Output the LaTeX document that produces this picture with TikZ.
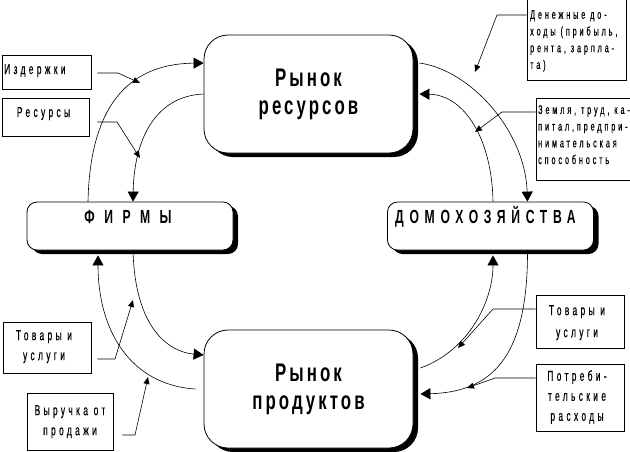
\documentclass[tikz,border=0pt]{standalone}
\usepackage{fontspec}
\setmainfont{Liberation Sans}
\newfontfamily\bigfont{Liberation Sans}[FakeStretch=0.66, LetterSpace=12]
\newfontfamily\headfont{Liberation Sans}[FakeStretch=0.64, LetterSpace=30]
\newfontfamily\smallfont{Liberation Sans}[FakeStretch=0.58, LetterSpace=23, FakeBold=0.4]
\usetikzlibrary{arrows.meta,shadows,calc}
\begin{document}
\begin{tikzpicture}[x=1pt,y=-1pt,
  market/.style={draw, line width=0.8pt, fill=white, rounded corners=24pt,
    minimum width=209pt, minimum height=118pt, inner sep=0pt, align=center,
    font=\bigfont\bfseries\fontsize{25.5}{28}\selectfont,
    drop shadow={shadow xshift=5pt, shadow yshift=-4pt, opacity=1, fill=black}},
  agent/.style={draw, line width=0.8pt, fill=white, rounded corners=10pt,
    minimum width=206pt, minimum height=48pt, inner sep=0pt,
    drop shadow={shadow xshift=5pt, shadow yshift=-4pt, opacity=1, fill=black}},
  htext/.style={font=\headfont\bfseries\fontsize{19}{20}\selectfont, inner sep=0pt},
  lbox/.style={draw, line width=0.7pt, inner sep=0pt},
  stext/.style={font=\smallfont\fontsize{14.5}{20}\selectfont, align=center, inner sep=0pt},
  ltext/.style={font=\smallfont\fontsize{12.5}{16.7}\selectfont, align=left, inner sep=0pt},
  flow/.style={line width=0.6pt, -{Triangle[length=10pt,width=11pt]}},
  ptr/.style={line width=0.6pt, -{Triangle[length=7pt,width=6pt]}}]
\fill[white] (0,0) rectangle (630,451);
\useasboundingbox (0,0) rectangle (630,451);

% main boxes
\node[market] (rr) at (308.5,94) {Рынок\\ресурсов};
\node[market] (rp) at (308.5,389) {Рынок\\продуктов};
\node[agent] (fi) at (130,226) {};
\node[agent] (dh) at (490.5,226) {};
\node[htext, anchor=base] (fiT) at (128,223) {\addfontfeatures{LetterSpace=50}ФИРМЫ};
\node[htext, anchor=base] (dhT) at (485.5,223) {ДОМОХОЗЯЙСТВА};

% label boxes
\node[lbox, minimum width=89pt, minimum height=34pt] (izd) at (46.5,72) {};
\node[stext, anchor=base west] (izdT) at (4,74) {Издержки};
\node[lbox, minimum width=87pt, minimum height=38pt] (res) at (45.5,117) {};
\node[stext, anchor=base] (resT) at (43.5,117) {Ресурсы};
\node[lbox, minimum width=99pt, minimum height=81pt] (den) at (576.5,39.5) {};
\node[ltext, anchor=north west] (denT) at (530,10) {Денежные до-\\ходы (прибыль,\\рента, зарпла-\\та)};
\node[lbox, minimum width=98pt, minimum height=82pt] (zem) at (585,139) {};
\node[ltext, anchor=north west] (zemT) at (538,105) {Земля, труд, ка-\\питал,предпри-\\нимательская\\способность};
\node[lbox, minimum width=88pt, minimum height=51pt] (tovL) at (47,347.5) {};
\node[stext, anchor=north] (tovLT) at (44,330) {Товары и\\услуги};
\node[lbox, minimum width=86pt, minimum height=57pt] (vyr) at (70,421.5) {};
\node[stext, anchor=north] (vyrT) at (70,405) {Выручка от\\продажи};
\node[lbox, minimum width=88pt, minimum height=53pt] (tovR) at (580,321.5) {};
\node[stext, anchor=north, font=\smallfont\fontsize{14.5}{22}\selectfont] (tovRT) at (577,305) {Товары и\\услуги};
\node[lbox, minimum width=88pt, minimum height=67pt] (potr) at (580,397.5) {};
\node[stext, anchor=north] (potrT) at (577,370) {Потреби-\\тельские\\расходы};

% flows
\draw[flow] ([xshift=-42pt]fi.north) .. controls (90,110) and (125,64) .. ([yshift=31pt]rr.west);
\draw[flow] (rr.west) .. controls (155,96) and (134,140) .. ([xshift=3pt]fi.north);
\draw[flow] ([shift={(6pt,31pt)}]rr.east) .. controls (470,70) and (525,130) .. ([xshift=37pt]dh.north);
\draw[flow] ([xshift=2.5pt]dh.north) .. controls (492,140) and (465,95) .. ([xshift=6pt]rr.east);
\draw[flow] ([xshift=3pt]fi.south) .. controls (135,330) and (170,352) .. ([yshift=34pt]rp.west);
\draw[flow] ([xshift=-8pt]rp.west) .. controls (130,385) and (98,330) .. ([shift={(-32pt,-5pt)}]fi.south);
\draw[flow] ([shift={(7pt,21pt)}]rp.east) .. controls (470,350) and (493,300) .. ([shift={(2.5pt,-5pt)}]dh.south);
\draw[flow] ([xshift=37pt]dh.south) .. controls (528,360) and (490,392) .. ([shift={(7pt,-5pt)}]rp.east);

% pointers
\coordinate (izdB) at (118,73);  \coordinate (izdP) at (140,83);
\coordinate (resB) at (117,122); \coordinate (resP) at (140,158);
\coordinate (denB) at (497,15);  \coordinate (denP) at (475,72);
\coordinate (zemB) at (502,112); \coordinate (zemP) at (475,132);
\coordinate (tovLB) at (115,359); \coordinate (tovLP) at (133,300);
\coordinate (vyrB) at (135,435); \coordinate (vyrP) at (148,377);
\coordinate (tovRB) at (493,309); \coordinate (tovRP) at (458,348);
\coordinate (potrB) at (495,378); \coordinate (potrP) at (467,388);
\draw[ptr] ($(izd.east)+(6,1)$) -- (izdB) -- (izdP);
\draw[ptr] ($(res.east)+(8,5)$) -- (resB) -- (resP);
\draw[ptr] ($(den.west)+(0,-24.5)$) -- (denB) -- (denP);
\draw[ptr] ($(zem.west)+(0,-27)$) -- (zemB) -- (zemP);
\draw[ptr] ($(tovL.east)+(6,11.5)$) -- (tovLB) -- (tovLP);
\draw[ptr] ($(vyr.east)+(9,13.5)$) -- (vyrB) -- (vyrP);
\draw[ptr] ($(tovR.west)+(0,-12.5)$) -- (tovRB) -- (tovRP);
\draw[ptr] ($(potr.west)+(0,-19.5)$) -- (potrB) -- (potrP);
\end{tikzpicture}
\end{document}
